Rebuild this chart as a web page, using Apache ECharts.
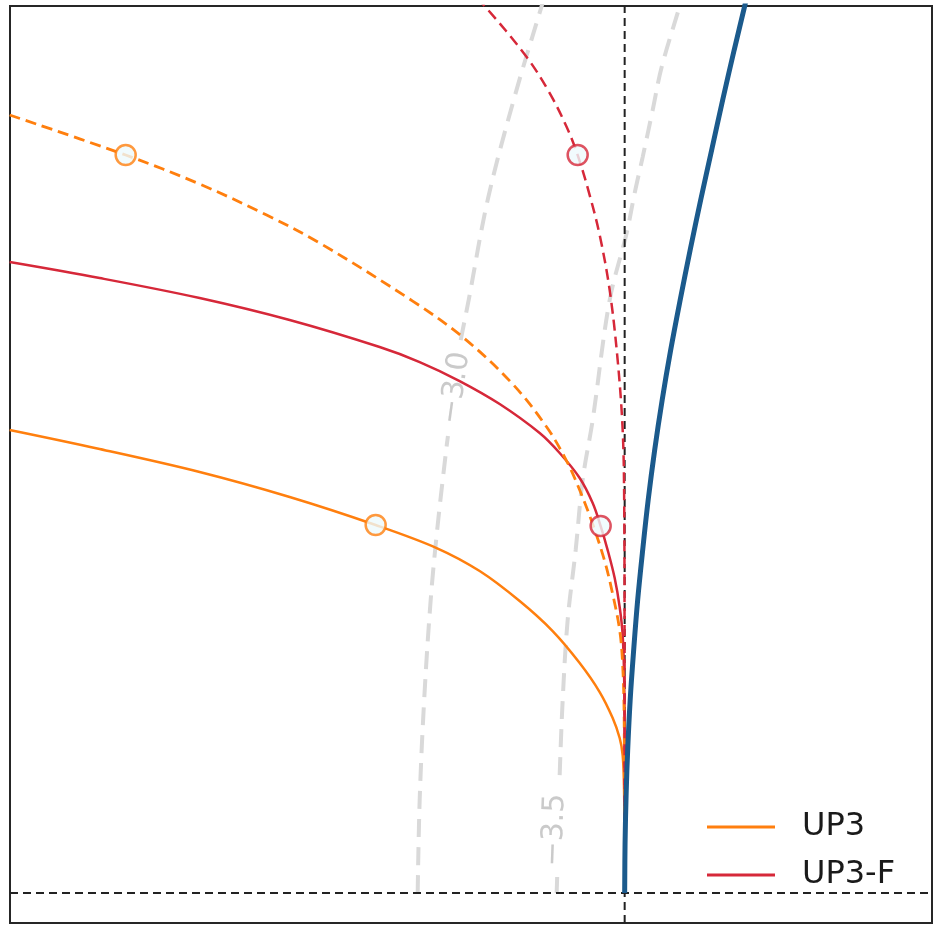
<!DOCTYPE html>
<html>
<head>
<meta charset="utf-8">
<script src="https://cdn.jsdelivr.net/npm/echarts@6/dist/echarts.min.js"></script>
<style>html,body{margin:0;padding:0;background:#fff}#c{width:933px;height:930px}</style>
</head>
<body>
<div id="c"></div>
<script>
// ---- data ----
const xRange = [-2, 1];
const yRange = [-0.098, 2.902];

const up3Solid = [[-2.0011,1.5147],[-1.7083,1.4525],[-1.3829,1.3773],[-1.09,1.2955],[-0.8102,1.2039],[-0.6117,1.1287],[-0.4718,1.0534],[-0.3417,0.9553],[-0.2343,0.8571],[-0.1464,0.7525],[-0.0813,0.6576],[-0.039,0.5725],[-0.0163,0.5071],[-0.0065,0.4515],[-0.0023,0.3533],[-0.0007,0.2061],[0,0]];
const up3fSolid = [[-2.0011,2.0643],[-1.7083,2.012],[-1.3829,1.9466],[-1.09,1.8746],[-0.7972,1.7862],[-0.667,1.7372],[-0.5369,1.675],[-0.4067,1.5998],[-0.2766,1.5049],[-0.2115,1.4395],[-0.1464,1.3577],[-0.1041,1.2759],[-0.0781,1.2006],[-0.0553,1.1221],[-0.0325,1.0305],[-0.0163,0.9357],[-0.0065,0.844],[-0.0016,0.6968],[-0.0003,0.4678],[0,0]];
const up3Dashed = [[-2.0011,2.5453],[-1.6236,2.4144],[-1.3829,2.3195],[-1.1649,2.2181],[-0.9924,2.1265],[-0.6898,1.9367],[-0.5271,1.819],[-0.3644,1.6652],[-0.2538,1.5245],[-0.1887,1.4133],[-0.1464,1.3184],[-0.1041,1.2072],[-0.0651,1.0861],[-0.039,0.9782],[-0.0163,0.8604],[-0.0065,0.7459],[-0.0016,0.566],[0,0]];
const up3fDashed = [[-0.5206,2.9673],[-0.4555,2.9018],[-0.3189,2.735],[-0.244,2.6172],[-0.1887,2.5061],[-0.1529,2.4144],[-0.1139,2.2835],[-0.0813,2.1526],[-0.0488,1.9727],[-0.0228,1.7437],[-0.0065,1.5147],[-0.0016,1.2857],[-0.0003,0.795],[0,0]];
const blueCurve = [[0,0],[0.0013,0.1636],[0.0049,0.3272],[0.0098,0.4678],[0.0179,0.6314],[0.0293,0.795],[0.0423,0.9586],[0.0586,1.1221],[0.0765,1.2857],[0.0976,1.4493],[0.122,1.6129],[0.1497,1.7764],[0.1806,1.94],[0.2131,2.1036],[0.2473,2.2671],[0.2831,2.4307],[0.3189,2.5943],[0.3563,2.7579],[0.3905,2.9018],[0.3986,2.9378]];

const contour30Lower = [[-0.6735,0],[-0.667,0.3043],[-0.6524,0.6314],[-0.6312,0.9586],[-0.6101,1.1876],[-0.5808,1.4493],[-0.575,1.4951]];
const contour30Upper = [[-0.5336,1.8091],[-0.5076,1.94],[-0.4458,2.2671],[-0.3612,2.5943],[-0.2701,2.9018],[-0.2587,2.938]];
const contour35Lower = [[-0.2213,0],[-0.2196,0.0523]];
const contour35Upper = [[-0.2115,0.386],[-0.2017,0.6314],[-0.1855,0.8931],[-0.1594,1.1221],[-0.1367,1.3511],[-0.1041,1.5474],[-0.0488,1.94],[0.0065,2.1592],[0.0325,2.29],[0.0586,2.4078],[0.0911,2.5616],[0.1204,2.7023],[0.179,2.9018],[0.1887,2.938]];
const contourLabels = [{text:'\u22123.0', pos:[-0.5499,1.6521], rot:82}, {text:'\u22123.5', pos:[-0.2278,0.2061], rot:88}];

const up3Markers = [[-0.8102,1.2039],[-1.6236,2.4144]];
const up3fMarkers = [[-0.0781,1.2006],[-0.1529,2.4144]];

const legendNames = ['UP3', 'UP3-F'];
// ---- styles ----
const ORANGE = '#ff7f0e', RED = '#d62839', BLUE = '#1b5a8c', GRAY = '#d9d9d9', GRAYTXT = '#bdbdbd';
const SM = 0.35;

function contour(data) {
  return {type:'line', data, symbol:'none', silent:true, z:1, smooth:SM,
    lineStyle:{color:GRAY, width:4, type:[18,10], cap:'butt'}};
}
function markers(data, color) {
  return {type:'scatter', data, symbol:'circle', symbolSize:20, z:6,
    itemStyle:{color:'#eefafd', borderColor:color, borderWidth:2.5}};
}

const series = [
  contour(contour30Lower), contour(contour30Upper), contour(contour35Lower), contour(contour35Upper),
  ...contourLabels.map(l => ({type:'scatter', data:[l.pos], symbolSize:1, z:2,
    itemStyle:{color:'rgba(0,0,0,0)'},
    label:{show:true, position:'inside', formatter:l.text, rotate:l.rot, color:GRAYTXT,
      fontFamily:'DejaVu Sans', fontSize:30, align:'center', verticalAlign:'middle'}})),
  {type:'line', data:[[0,yRange[0]],[0,yRange[1]]], symbol:'none', z:2,
    lineStyle:{color:'#222', width:2, type:[8,5]}},
  {type:'line', data:[[xRange[0],0],[xRange[1],0]], symbol:'none', z:2,
    lineStyle:{color:'#222', width:2, type:[8,5]}},
  {name:legendNames[0], type:'line', data:up3Solid, symbol:'none', smooth:SM, z:3,
    color:ORANGE, lineStyle:{color:ORANGE, width:2.5}},
  {name:legendNames[1], type:'line', data:up3fSolid, symbol:'none', smooth:SM, z:3,
    color:RED, lineStyle:{color:RED, width:2.5}},
  {type:'line', data:up3Dashed, symbol:'none', smooth:SM, z:4,
    lineStyle:{color:ORANGE, width:2.8, type:[11,6]}},
  {type:'line', data:up3fDashed, symbol:'none', smooth:SM, z:4,
    lineStyle:{color:RED, width:2.5, type:[11,6]}},
  {type:'line', data:blueCurve, symbol:'none', smooth:SM, z:5,
    lineStyle:{color:BLUE, width:5}},
  markers(up3Markers, ORANGE), markers(up3fMarkers, RED)
];

const chart = echarts.init(document.getElementById('c'), null, {renderer:'canvas'});
chart.setOption({
  animation:false,
  backgroundColor:'#fff',
  grid:{left:10, right:1, top:6, bottom:7, show:true, borderColor:'#262626', borderWidth:2, backgroundColor:'transparent'},
  xAxis:{type:'value', min:xRange[0], max:xRange[1], show:true, axisLine:{show:false}, axisTick:{show:false}, axisLabel:{show:false}, splitLine:{show:false}},
  yAxis:{type:'value', min:yRange[0], max:yRange[1], show:true, axisLine:{show:false}, axisTick:{show:false}, axisLabel:{show:false}, splitLine:{show:false}},
  legend:{data:legendNames, orient:'vertical', left:707, top:811, padding:0, itemGap:16,
    icon:'rect', itemWidth:68, itemHeight:3,
    textStyle:{fontFamily:'DejaVu Sans', fontSize:32, color:'#1a1a1a', lineHeight:32, padding:[0,0,0,22]}},
  series
});
</script>
</body>
</html>
